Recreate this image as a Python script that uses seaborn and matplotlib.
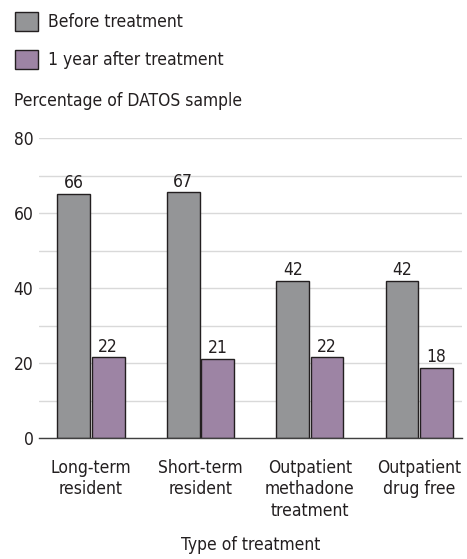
import numpy as np
import pandas as pd
import matplotlib
import matplotlib.pyplot as plt
from matplotlib import font_manager
import seaborn as sns

matplotlib.use("Agg")

# ── Data ──────────────────────────────────────────────────────────────────
categories = ["Long-term\nresident", "Short-term\nresident",
              "Outpatient\nmethadone\ntreatment", "Outpatient\ndrug free"]
series = ["Before treatment", "1 year after treatment"]
before_vals = [65.1, 65.6, 41.9, 41.9]
after_vals = [21.6, 21.1, 21.6, 18.7]
before_labels = ["66", "67", "42", "42"]
after_labels = ["22", "21", "22", "18"]
y_ticks = [0, 20, 40, 60, 80]

COLORS = {"Before treatment": "#939598", "1 year after treatment": "#a07fa9"}
EDGE = "#231f20"
GRID = "#d9d9d9"
TEXT = "#231f20"

sns.set_theme(style="white")

# the original uses a condensed grotesque; take a narrow face if one is installed
_names = {f.name for f in font_manager.fontManager.ttflist}
_condensed = [f for f in font_manager.fontManager.ttflist
              if f.name == "DejaVu Sans" and str(f.stretch) in ("condensed", "semi-condensed")]
if "Liberation Sans Narrow" in _names:
    plt.rcParams["font.family"] = ["Liberation Sans Narrow", "DejaVu Sans"]
    FS = 13
elif _condensed:
    plt.rcParams["font.family"] = ["DejaVu Sans"]
    plt.rcParams["font.stretch"] = "condensed"
    FS = 12.5
else:
    plt.rcParams["font.family"] = ["DejaVu Sans"]
    FS = 11.5
plt.rcParams["text.color"] = TEXT

df = pd.DataFrame({
    "category": categories * 2,
    "series": [series[0]] * 4 + [series[1]] * 4,
    "value": before_vals + after_vals,
})

fig = plt.figure(figsize=(4.67, 5.59), dpi=100)
ax = fig.add_axes([39 / 467, 1 - 438 / 559, 423 / 467, 300 / 559])

sns.barplot(
    data=df, x="category", y="value", hue="series", hue_order=series,
    palette=COLORS, edgecolor=EDGE, linewidth=1.0, width=0.63, gap=0.05,
    ax=ax, legend=True, zorder=3,
)

for cont, labels in zip(ax.containers, [before_labels, after_labels]):
    ax.bar_label(cont, labels=labels, padding=1, fontsize=FS, color=TEXT)

ax.set_ylim(0, 80)
ax.set_xlim(-0.475, 3.39)
ax.set_yticks(y_ticks)
ax.yaxis.grid(True, color=GRID, linewidth=1.0, zorder=0)
ax.set_yticks(np.arange(0, 81, 10), minor=True)
ax.yaxis.grid(True, which="minor", color=GRID, linewidth=1.0, zorder=0)
ax.set_axisbelow(True)
for s in ["top", "right", "left"]:
    ax.spines[s].set_visible(False)
ax.spines["bottom"].set_color("#404040")
ax.spines["bottom"].set_linewidth(1.0)
ax.spines["bottom"].set_zorder(4)

ax.tick_params(axis="y", which="both", length=0, labelsize=FS, pad=4, colors=TEXT)
ax.tick_params(axis="x", which="major", length=0, labelsize=FS, pad=15, colors=TEXT)
ax.set_xticks([0.5, 1.5, 2.5], minor=True)
ax.tick_params(axis="x", which="minor", length=6, width=1.0, color="#404040", direction="out")
for lbl in ax.get_xticklabels():
    lbl.set_linespacing(1.25)

ax.set_xlabel("Type of treatment", fontsize=FS, labelpad=12, color=TEXT)
ax.set_ylabel("")

handles, labels = ax.get_legend_handles_labels()
ax.get_legend().remove()
fig.legend(handles, labels, loc="upper left", bbox_to_anchor=(8 / 467, 1 - 5 / 559),
           frameon=False, fontsize=FS, handlelength=1.3, handleheight=1.35,
           labelspacing=1.05, handletextpad=0.6, borderaxespad=0)

fig.text(14 / 467, 1 - 101 / 559, "Percentage of DATOS sample", fontsize=FS,
         va="center", ha="left", color=TEXT)

fig.savefig("out.png", dpi=100)
